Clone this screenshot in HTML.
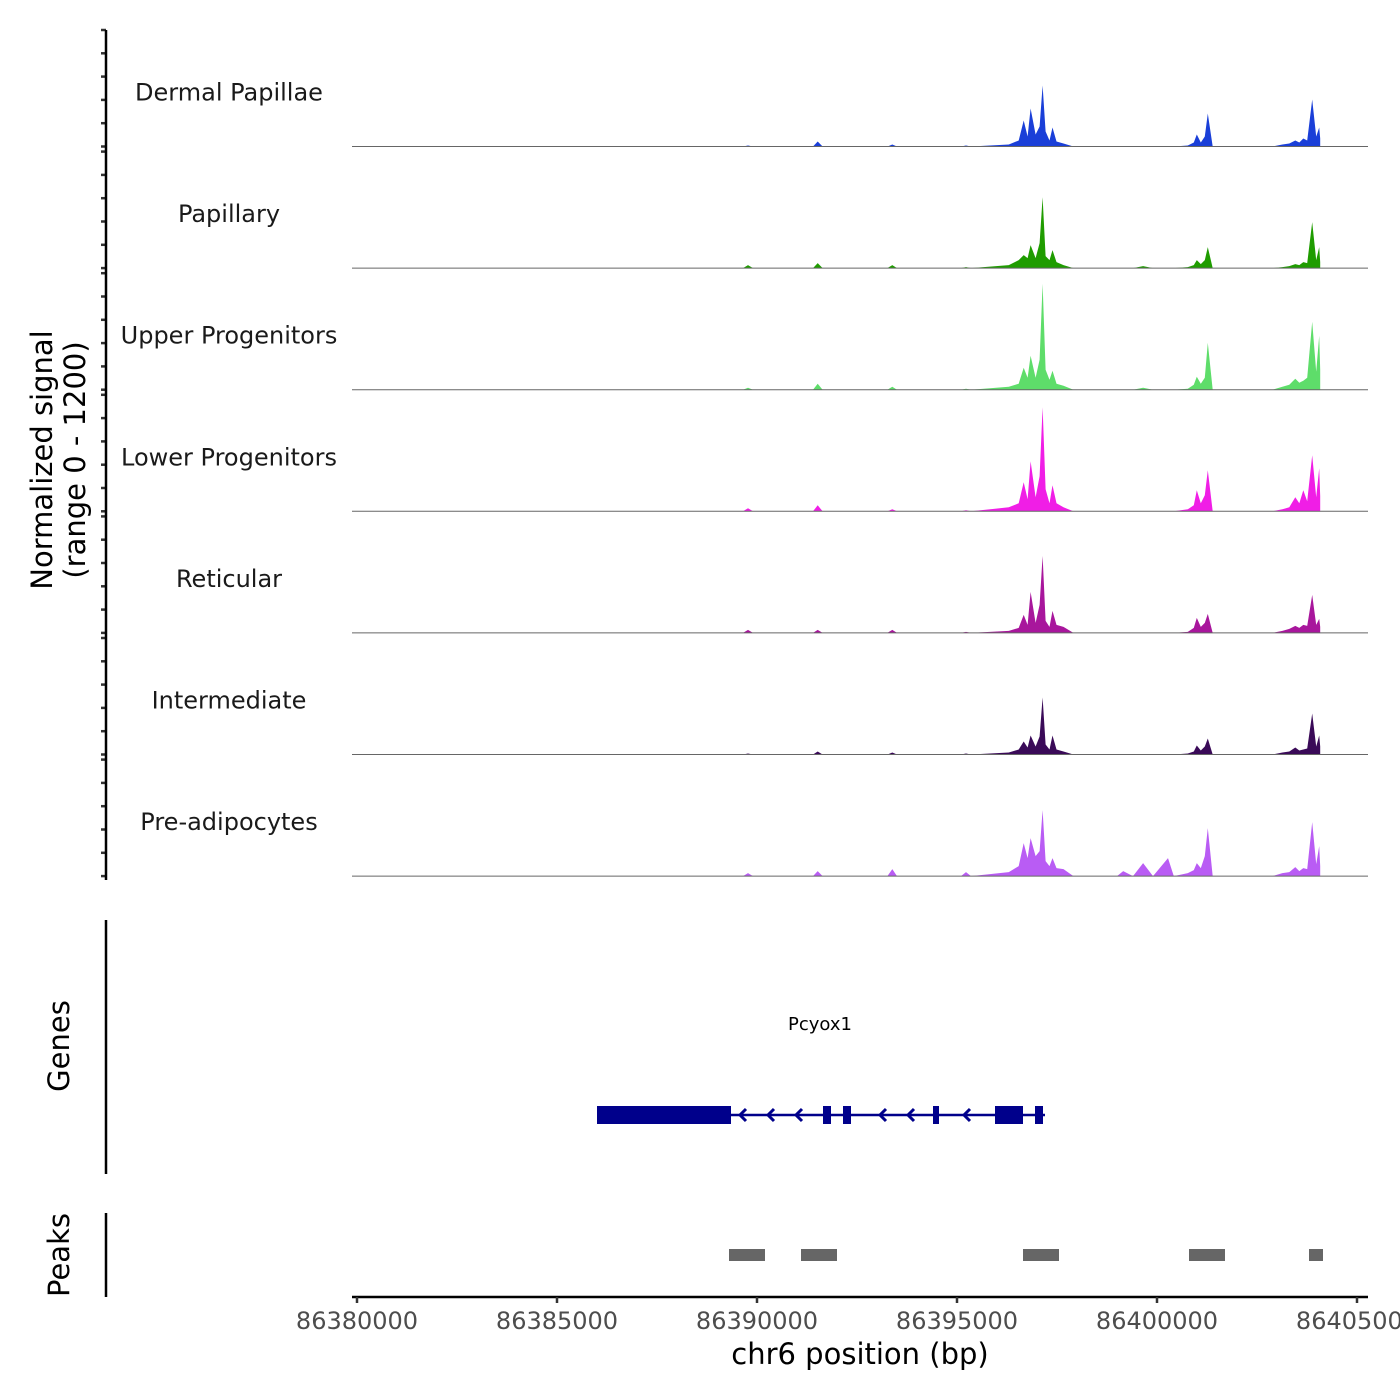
<!DOCTYPE html>
<html><head><meta charset="utf-8"><style>
html,body{margin:0;padding:0;background:#fff;}
svg{display:block;font-family:"DejaVu Sans","Liberation Sans",sans-serif;}
</style></head><body>
<svg id="chart" width="1400" height="1400" viewBox="0 0 1400 1400" xmlns="http://www.w3.org/2000/svg">
<g id="tracks"></g>
<g id="yaxis"></g>
<text transform="translate(52,460) rotate(-90)" text-anchor="middle" font-size="29" fill="#000">Normalized signal</text>
<text transform="translate(85,460) rotate(-90)" text-anchor="middle" font-size="29" fill="#000">(range 0 - 1200)</text>
<line x1="106" y1="920" x2="106" y2="1174" stroke="#000" stroke-width="2.5"/>
<text transform="translate(69,1046) rotate(-90)" text-anchor="middle" font-size="29" fill="#000">Genes</text>
<line x1="106" y1="1213" x2="106" y2="1297" stroke="#000" stroke-width="2.5"/>
<text transform="translate(69,1255) rotate(-90)" text-anchor="middle" font-size="29" fill="#000">Peaks</text>
<g id="gene"></g>
<text x="820" y="1030" text-anchor="middle" font-size="18" fill="#000">Pcyox1</text>
<g id="peaks"></g>
<g id="xaxis"></g>
<text x="860" y="1364" text-anchor="middle" font-size="29" fill="#000">chr6 position (bp)</text>
</svg>
<script>
const trackNames = ["Dermal Papillae","Papillary","Upper Progenitors","Lower Progenitors","Reticular","Intermediate","Pre-adipocytes"];
const trackColors = ["#1a3fd8","#1f9c00","#5edd6a","#f01ee6","#a8169c","#3a0a58","#b95cf4"];
const positions = [0,9650,9776,9900,11400,11517,11640,13260,13383,13500,15100,15224,15350,16294,16542,16667,16766,16841,16965,17065,17139,17214,17313,17388,17488,17662,17910,19000,19154,19400,19652,19900,20274,20420,20771,20920,20995,21095,21194,21269,21393,22886,23134,23308,23458,23557,23657,23756,23881,23980,24055,24080,24081,25000];
const sigDermal = [0,0,10,0,0,50,0,0,20,0,0,10,0,20,60,260,100,380,120,200,610,150,60,190,50,30,0,0,0,0,0,0,0,0,10,40,120,40,100,330,0,0,20,30,60,40,80,60,470,100,190,80,0,0];
const sigPapillary = [0,0,30,0,0,50,0,0,30,0,0,10,0,30,80,130,100,230,100,250,710,120,80,180,60,30,0,0,0,0,20,0,0,0,10,30,80,40,80,210,0,0,10,20,40,30,60,50,460,80,210,60,0,0];
const sigUpper = [0,0,20,0,0,60,0,0,30,0,0,10,0,30,60,220,120,340,120,300,1060,200,100,190,60,40,0,0,0,0,20,0,0,0,10,50,130,60,120,470,0,0,30,50,110,70,90,120,680,180,540,200,0,0];
const sigLower = [0,0,30,0,0,60,0,0,20,0,0,10,0,40,80,290,120,500,140,350,1040,220,80,260,80,40,0,0,0,0,0,0,0,0,20,60,210,80,160,410,0,0,20,40,140,80,210,100,560,140,430,150,0,0];
const sigReticular = [0,0,30,0,0,30,0,0,30,0,0,10,0,20,50,180,80,410,100,280,770,120,60,220,80,60,0,0,0,0,0,0,0,0,10,50,150,60,100,190,0,0,20,40,70,50,80,70,380,80,140,60,0,0];
const sigIntermediate = [0,0,10,0,0,30,0,0,20,0,0,10,0,20,50,130,70,190,80,180,570,100,50,190,50,30,0,0,0,0,0,0,0,0,10,30,90,40,80,160,0,0,20,30,70,40,50,60,410,80,190,80,0,0];
const sigPreAdipo = [0,0,30,0,0,50,0,0,70,0,0,40,0,40,100,330,180,380,200,250,660,150,100,180,80,70,0,0,50,0,130,0,180,0,30,60,130,80,200,480,0,0,30,40,90,50,80,70,540,120,300,100,0,0];
const allSignals = [sigDermal,sigPapillary,sigUpper,sigLower,sigReticular,sigIntermediate,sigPreAdipo];
const xTicks = [86380000,86385000,86390000,86395000,86400000,86405000];
const geneStart = 86386000, geneEnd = 86397200;
const exonStarts = [86386000,86391650,86392150,86394400,86395950,86396950];
const exonEnds   = [86389350,86391850,86392350,86394550,86396650,86397150];
const peakStarts = [86389300,86391100,86396650,86400800,86403800];
const peakEnds   = [86390200,86392000,86397550,86401700,86404150];

const NS="http://www.w3.org/2000/svg";
const X0=86380000;
function xs(bp){return 357+(bp-X0)*0.04;}
const trackH=121.6, firstBase=146.5, yMax=1200, yPx=120;
function ys(v,base){return base - v/yMax*yPx;}
function mk(tag,attrs,parent){const e=document.createElementNS(NS,tag);for(const k in attrs)e.setAttribute(k,attrs[k]);parent.appendChild(e);return e;}

const tg=document.getElementById('tracks');
const ya=document.getElementById('yaxis');
allSignals.forEach((sig,i)=>{
  const base=firstBase+i*trackH;
  let d="M"+xs(X0+positions[0]).toFixed(1)+","+base;
  positions.forEach((p,j)=>{d+=" L"+xs(X0+p).toFixed(1)+","+ys(sig[j],base).toFixed(1);});
  d+=" L"+xs(X0+positions[positions.length-1]).toFixed(1)+","+base+" Z";
  const g=mk('g',{},tg);
  
  
  const clip=mk('clipPath',{id:'c'+i},g);
  mk('rect',{x:352,y:base-yPx-2,width:1016,height:yPx+2},clip);
  const a=mk('path',{d:d,fill:trackColors[i],'clip-path':'url(#c'+i+')'},g);
  
  
  const bl=mk('line',{x1:352,x2:1368,y1:base,y2:base,stroke:'#666','stroke-width':1},g);
  
  
  const lab=mk('text',{x:229,y:base-46,'text-anchor':'middle','font-size':24,fill:'#1a1a1a'},g);
  lab.textContent=trackNames[i];
  
  
  for(let k=0;k<=5;k++){
    const ty=base-k*23.3;
    const t=mk('line',{x1:101,x2:106,y1:ty,y2:ty,stroke:'#333','stroke-width':2.5},ya);
    
    
  }
});
const yl=mk('line',{x1:106,x2:106,y1:30,y2:880,stroke:'#000','stroke-width':2.5},ya);



const gg=document.getElementById('gene');
const gy=1115;
const il=mk('line',{x1:xs(geneStart),x2:xs(geneEnd),y1:gy,y2:gy,stroke:'#00008b','stroke-width':2.5},gg);


for(let bp=geneStart+100;bp<geneEnd;bp+=700){
  const x=xs(bp);
  let inside=false;
  exonStarts.forEach((s,j)=>{if(bp>=s-100&&bp<=exonEnds[j]+100)inside=true;});
  if(inside)continue;
  const ch=mk('path',{d:`M${x+5},${gy-6} L${x-1},${gy} L${x+5},${gy+6}`,fill:'none',stroke:'#00008b','stroke-width':3},gg);
  
  
}
exonStarts.forEach((s,j)=>{
  const r=mk('rect',{x:xs(s),y:gy-9,width:xs(exonEnds[j])-xs(s),height:18,fill:'#00008b'},gg);
  
  
});

const pg=document.getElementById('peaks');
peakStarts.forEach((s,j)=>{
  const r=mk('rect',{x:xs(s),y:1249,width:xs(peakEnds[j])-xs(s),height:12,fill:'#666'},pg);
  
  
});

const xa=document.getElementById('xaxis');
const xl=mk('line',{x1:352,x2:1368,y1:1297,y2:1297,stroke:'#000','stroke-width':2.5},xa);


xTicks.forEach(t=>{
  const x=xs(t);
  const tk=mk('line',{x1:x,x2:x,y1:1297,y2:1303,stroke:'#333','stroke-width':2.5},xa);
  
  
  const lb=mk('text',{x:x,y:1329,'text-anchor':'middle','font-size':24,fill:'#4d4d4d'},xa);
  lb.textContent=String(t);
  
  
});
</script>
</body></html>
